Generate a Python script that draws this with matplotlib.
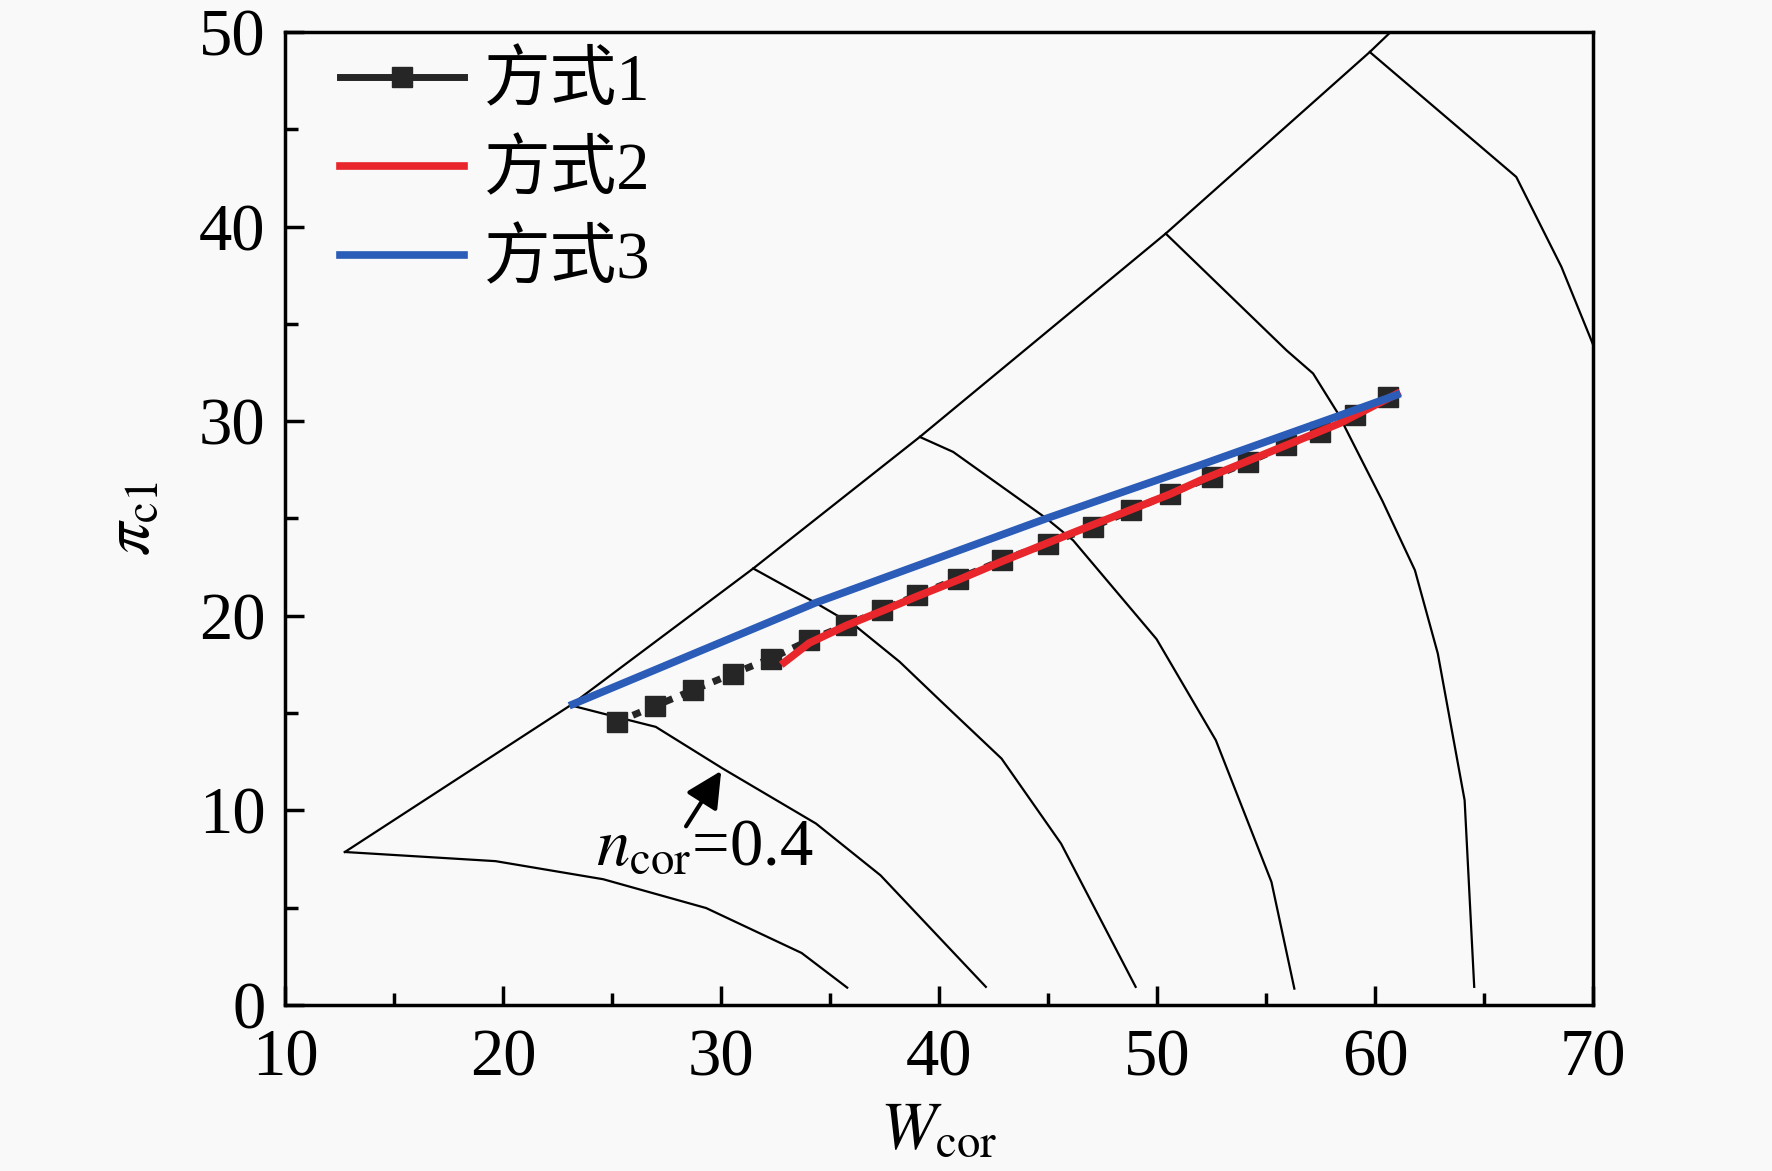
import matplotlib
matplotlib.use("Agg")
import matplotlib.pyplot as plt
from matplotlib.lines import Line2D

plt.rcParams['font.family'] = ['Liberation Serif', 'Noto Sans CJK SC']
plt.rcParams['mathtext.fontset'] = 'stix'

# surge line (left boundary of the map)
surge_x = [12.75, 23.1, 31.48, 39.12, 50.4, 59.76, 61.0]
surge_y = [7.86, 15.4, 22.43, 29.19, 39.64, 48.97, 50.3]

# constant corrected speed lines, lowest to highest
speed_lines = [
    ([12.75, 19.66, 24.6, 29.32, 33.7, 35.79],
     [7.86, 7.39, 6.46, 4.98, 2.67, 0.89]),
    ([23.1, 24.6, 27.01, 30.08, 34.36, 37.32, 42.15],
     [15.4, 14.97, 14.29, 12.15, 9.32, 6.66, 0.93]),
    ([31.48, 34.39, 36.22, 38.2, 40.04, 42.87, 45.6, 49.02],
     [22.43, 20.63, 19.43, 17.63, 15.66, 12.66, 8.29, 0.93]),
    ([39.12, 40.65, 44.93, 46.15, 49.98, 52.7, 55.25, 56.3],
     [29.19, 28.42, 25.0, 23.88, 18.8, 13.6, 6.32, 0.84]),
    ([50.4, 55.94, 57.16, 58.3, 60.34, 61.83, 62.88, 64.11, 64.55],
     [39.64, 33.64, 32.45, 30.4, 25.9, 22.34, 18.06, 10.52, 0.93]),
    ([59.76, 66.48, 68.55, 69.92, 70.4],
     [48.97, 42.55, 37.93, 34.16, 32.8]),
]

# 方式1 operating points
m1_x = [25.22, 26.97, 28.70, 30.56, 32.28, 34.05, 35.73, 37.37, 38.97, 40.88, 42.87,
        45.0, 47.07, 48.83, 50.59, 52.5, 54.18, 55.94, 57.47, 59.07, 60.6]
m1_y = [14.54, 15.36, 16.17, 17.03, 17.80, 18.74, 19.51, 20.28, 21.05, 21.91, 22.84,
        23.71, 24.57, 25.42, 26.28, 27.13, 27.9, 28.76, 29.45, 30.3, 31.24]

# 方式2
m2_x = [32.9, 34.05, 35.75, 37.4, 39.0, 40.9, 42.9, 46.0, 50.6, 52.0, 55.9, 58.4, 61.0]
m2_y = [17.6, 18.6, 19.5, 20.25, 21.0, 21.85, 22.8, 24.2, 26.25, 26.96, 28.75, 29.9, 31.4]

# 方式3
m3_x = [23.2, 34.3, 44.93, 52.0, 58.4, 61.0]
m3_y = [15.45, 20.65, 25.0, 27.75, 30.3, 31.35]

c_black = '#262626'
c_red = '#e8262b'
c_blue = '#2a5cb8'
bg = '#f9f9f9'

fig = plt.figure(figsize=(17.72, 11.71), dpi=100, facecolor=bg)
ax = fig.add_axes([0.1608, 0.1418, 0.7382, 0.8309])
ax.set_facecolor(bg)

ax.plot(surge_x, surge_y, color='black', lw=1.6)
for sx, sy in speed_lines:
    ax.plot(sx, sy, color='black', lw=1.6)

ax.plot(m1_x, m1_y, color=c_black, lw=5, ls=(0, (1.2, 1.3)),
        marker='s', ms=14, mec=c_black, mfc=c_black)
ax.plot(m2_x, m2_y, color=c_red, lw=5.5)
ax.plot(m3_x, m3_y, color=c_blue, lw=5.5)

ax.annotate('', xy=(30.08, 12.15), xytext=(28.33, 9.06),
            arrowprops=dict(arrowstyle='-|>', color='black', lw=3, mutation_scale=55))
ax.text(24.27, 7.18, r'$n_{\mathrm{cor}}$=0.4', fontsize=48, va='baseline')

ax.set_xlim(10, 70)
ax.set_ylim(0, 50)
ax.set_xticks(range(10, 71, 10))
ax.set_yticks(range(0, 51, 10))
ax.set_xticks(range(15, 70, 10), minor=True)
ax.set_yticks(range(5, 50, 10), minor=True)
ax.tick_params(which='major', direction='in', length=14, width=2.5, labelsize=48)
ax.tick_params(which='minor', direction='in', length=9, width=2.5)
ax.tick_params(axis='x', pad=17)
ax.tick_params(axis='y', pad=14)
for s in ax.spines.values():
    s.set_linewidth(2.5)

ax.set_xlabel(r'$W_{\mathrm{cor}}$', fontsize=48, labelpad=8)
ax.set_ylabel(r'$\pi_{\mathrm{c1}}$', fontsize=48, labelpad=26)

handles = [
    Line2D([], [], color=c_black, lw=5, marker='s', ms=14),
    Line2D([], [], color=c_red, lw=5.5),
    Line2D([], [], color=c_blue, lw=5.5),
]
ax.legend(handles, ['方式1', '方式2', '方式3'], loc='upper left', frameon=False,
          fontsize=48, handlelength=1.85, handletextpad=0.3, labelspacing=0.4,
          borderpad=0.3, borderaxespad=0.0, bbox_to_anchor=(0.027, 1.0))

fig.savefig('out.png', dpi=100, facecolor=bg)
